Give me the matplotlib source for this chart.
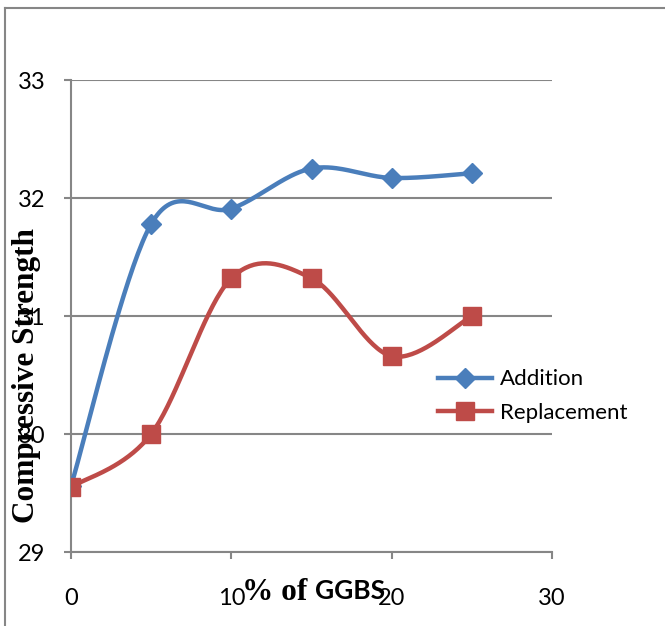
import numpy as np
import matplotlib.pyplot as plt
from matplotlib.lines import Line2D

# GGBS content (%) and compressive strength
ggbs = [0, 5, 10, 15, 20, 25]
addition = [29.56, 31.78, 31.91, 32.25, 32.17, 32.21]
replacement = [29.55, 30.00, 31.32, 31.32, 30.66, 31.00]

x_ticks = [0, 10, 20, 30]
y_ticks = [29, 30, 31, 32, 33]

blue = '#4A7EBB'
red = '#BE4B48'
grey = '#868686'


def smooth(xs, ys, n=40):
    # spreadsheet-style smoothed line: cubic Bezier segments, control points
    # taken from neighbouring points (1/6 tension)
    p = np.column_stack([xs, ys]).astype(float)
    ext = np.vstack([p[0], p, p[-1]])
    out = []
    t = np.linspace(0, 1, n)[:, None]
    for i in range(len(p) - 1):
        p0 = ext[i + 1]
        p3 = ext[i + 2]
        c1 = p0 + (ext[i + 2] - ext[i]) / 6
        c2 = p3 - (ext[i + 3] - ext[i + 1]) / 6
        seg = ((1 - t) ** 3) * p0 + 3 * ((1 - t) ** 2) * t * c1 \
            + 3 * (1 - t) * t ** 2 * c2 + t ** 3 * p3
        out.append(seg if i == 0 else seg[1:])
    out = np.vstack(out)
    return out[:, 0], out[:, 1]


fig = plt.figure(figsize=(6.65, 6.26), dpi=100)
ax = fig.add_axes([0.1068, 0.1182, 0.7233, 0.754])

# outer chart frame (left and top edges)
fig.add_artist(Line2D([0.0075, 0.0075], [0, 0.987], color=grey, lw=1.5))
fig.add_artist(Line2D([0.0075, 1.0], [0.987, 0.987], color=grey, lw=1.5))

sx, sy = smooth(ggbs, addition)
ax.plot(sx, sy, color=blue, lw=3.2, solid_capstyle='round', zorder=3)
ax.plot(ggbs, addition, 'D', color=blue, ms=10, mec=blue, zorder=4)

sx, sy = smooth(ggbs, replacement)
ax.plot(sx, sy, color=red, lw=3.2, solid_capstyle='round', zorder=5)
ax.plot(ggbs, replacement, 's', color=red, ms=12.5, mec=red, zorder=6)

ax.set_xlim(0, 30)
ax.set_ylim(29, 33)
ax.set_xticks(x_ticks)
ax.set_yticks(y_ticks)
ax.grid(axis='y', color=grey, lw=1.5)
ax.set_axisbelow(True)
for side in ['top', 'right']:
    ax.spines[side].set_visible(False)
for side in ['left', 'bottom']:
    ax.spines[side].set_color(grey)
    ax.spines[side].set_linewidth(1.5)
ax.tick_params(axis='both', direction='out', length=5, width=1.5,
               color=grey, labelsize=17)
ax.tick_params(axis='y', pad=13.5)
ax.tick_params(axis='x', pad=21)
for lab in ax.get_xticklabels() + ax.get_yticklabels():
    lab.set_fontfamily('Lato')

# axis titles sit over the tick labels
fig.text(0.040, 0.40, 'Compressive Strength', rotation=90, ha='center',
         va='center', fontsize=22.5, fontweight='bold',
         family='Liberation Serif')
fig.text(0.474, 0.053, '% of ', ha='right', va='center', fontsize=22.5,
         fontweight='bold', family='Liberation Serif')
fig.text(0.474, 0.056, 'GGBS', ha='left', va='center', fontsize=19,
         fontweight='bold', family='Lato')

handles = [
    Line2D([], [], color=blue, lw=3.2, marker='D', ms=10, mec=blue),
    Line2D([], [], color=red, lw=3.2, marker='s', ms=12.5, mec=red),
]
fig.legend(handles, ['Addition', 'Replacement'], loc='center left',
           bbox_to_anchor=(0.628, 0.367), frameon=False,
           prop={'family': 'Lato', 'size': 16}, handlelength=2.45,
           handletextpad=0.36, labelspacing=0.62)

fig.savefig('out.png', dpi=100)
